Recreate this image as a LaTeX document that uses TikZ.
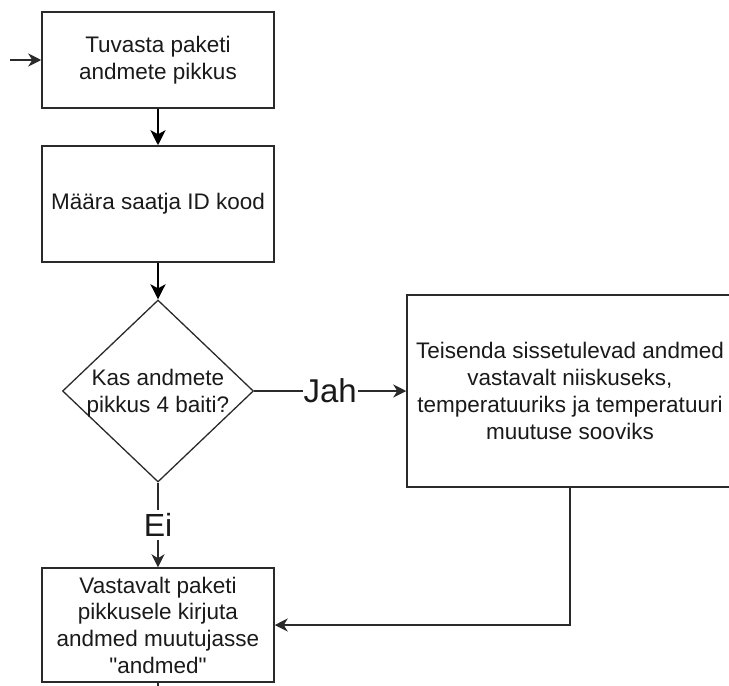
\documentclass[tikz,border=0pt]{standalone}
\usepackage{fontspec}
\setmainfont{Liberation Sans}
\usetikzlibrary{shapes.geometric,arrows.meta}
\definecolor{edgegray}{HTML}{2A2A2A}
\definecolor{inkblack}{HTML}{1A1A1A}
\newcommand\flowtext{\fontsize{22.5}{26.7}\selectfont}
\begin{document}
\begin{tikzpicture}[x=1pt,y=-1pt,
  stepbox/.style={draw=edgegray,line width=1.5pt,rectangle,inner sep=0pt,
    align=center,font=\flowtext,text=inkblack},
  decision/.style={draw=edgegray,line width=1.3pt,diamond,inner sep=0pt},
  heavyflow/.style={draw=black,line width=2.6pt,
    -{Stealth[length=15pt,width=15pt,inset=4pt]}},
  lightflow/.style={draw=edgegray,line width=1.5pt,
    -{Stealth[length=13pt,width=13pt,inset=4pt]}},
  plainflow/.style={draw=edgegray,line width=1.5pt},
  branchlabel/.style={fill=white,inner sep=1pt,text=inkblack}
]
\useasboundingbox (0,0) rectangle (729,686);

% process steps
\node[stepbox,minimum width=232pt,minimum height=96pt] (detect) at (158,60)
  {Tuvasta paketi\\andmete pikkus};
\node[stepbox,minimum width=232pt,minimum height=116pt] (sender) at (158,204)
  {Määra saatja ID kood};
\node[decision,minimum width=191pt,minimum height=182pt] (check) at (158,391) {};
\node[align=center,font=\flowtext,text=inkblack,inner sep=0pt] (checktext) at (158,393)
  {Kas andmete\\pikkus 4 baiti?};
\node[stepbox,minimum width=326pt,minimum height=192pt] (convert) at (570,391)
  {Teisenda sissetulevad andmed\\vastavalt niiskuseks,\\temperatuuriks ja temperatuuri\\muutuse sooviks};
\node[stepbox,minimum width=232pt,minimum height=114pt] (store) at (158,625)
  {Vastavalt paketi\\pikkusele kirjuta\\andmed muutujasse\\\textquotedbl andmed\textquotedbl};

% loose ends
\coordinate (entry) at (10,60);
\coordinate (exit) at (158,700);

% connectors
\draw[lightflow,line width=2pt] (entry) -- (detect.west);
\draw[heavyflow] (detect.south) -- (sender.north);
\draw[heavyflow] (sender.south) -- (check.north);
\draw[lightflow] (check.east) -- node[branchlabel,font=\fontsize{33}{36}\selectfont] {Jah} (convert.west);
\draw[lightflow,line width=1.3pt] (check.south) -- node[branchlabel,font=\fontsize{32}{36}\selectfont,inner sep=3pt] {Ei} (store.north);
\draw[lightflow] (convert.south) |- (store.east);
\draw[plainflow] (store.south) -- (exit);
\end{tikzpicture}
\end{document}
